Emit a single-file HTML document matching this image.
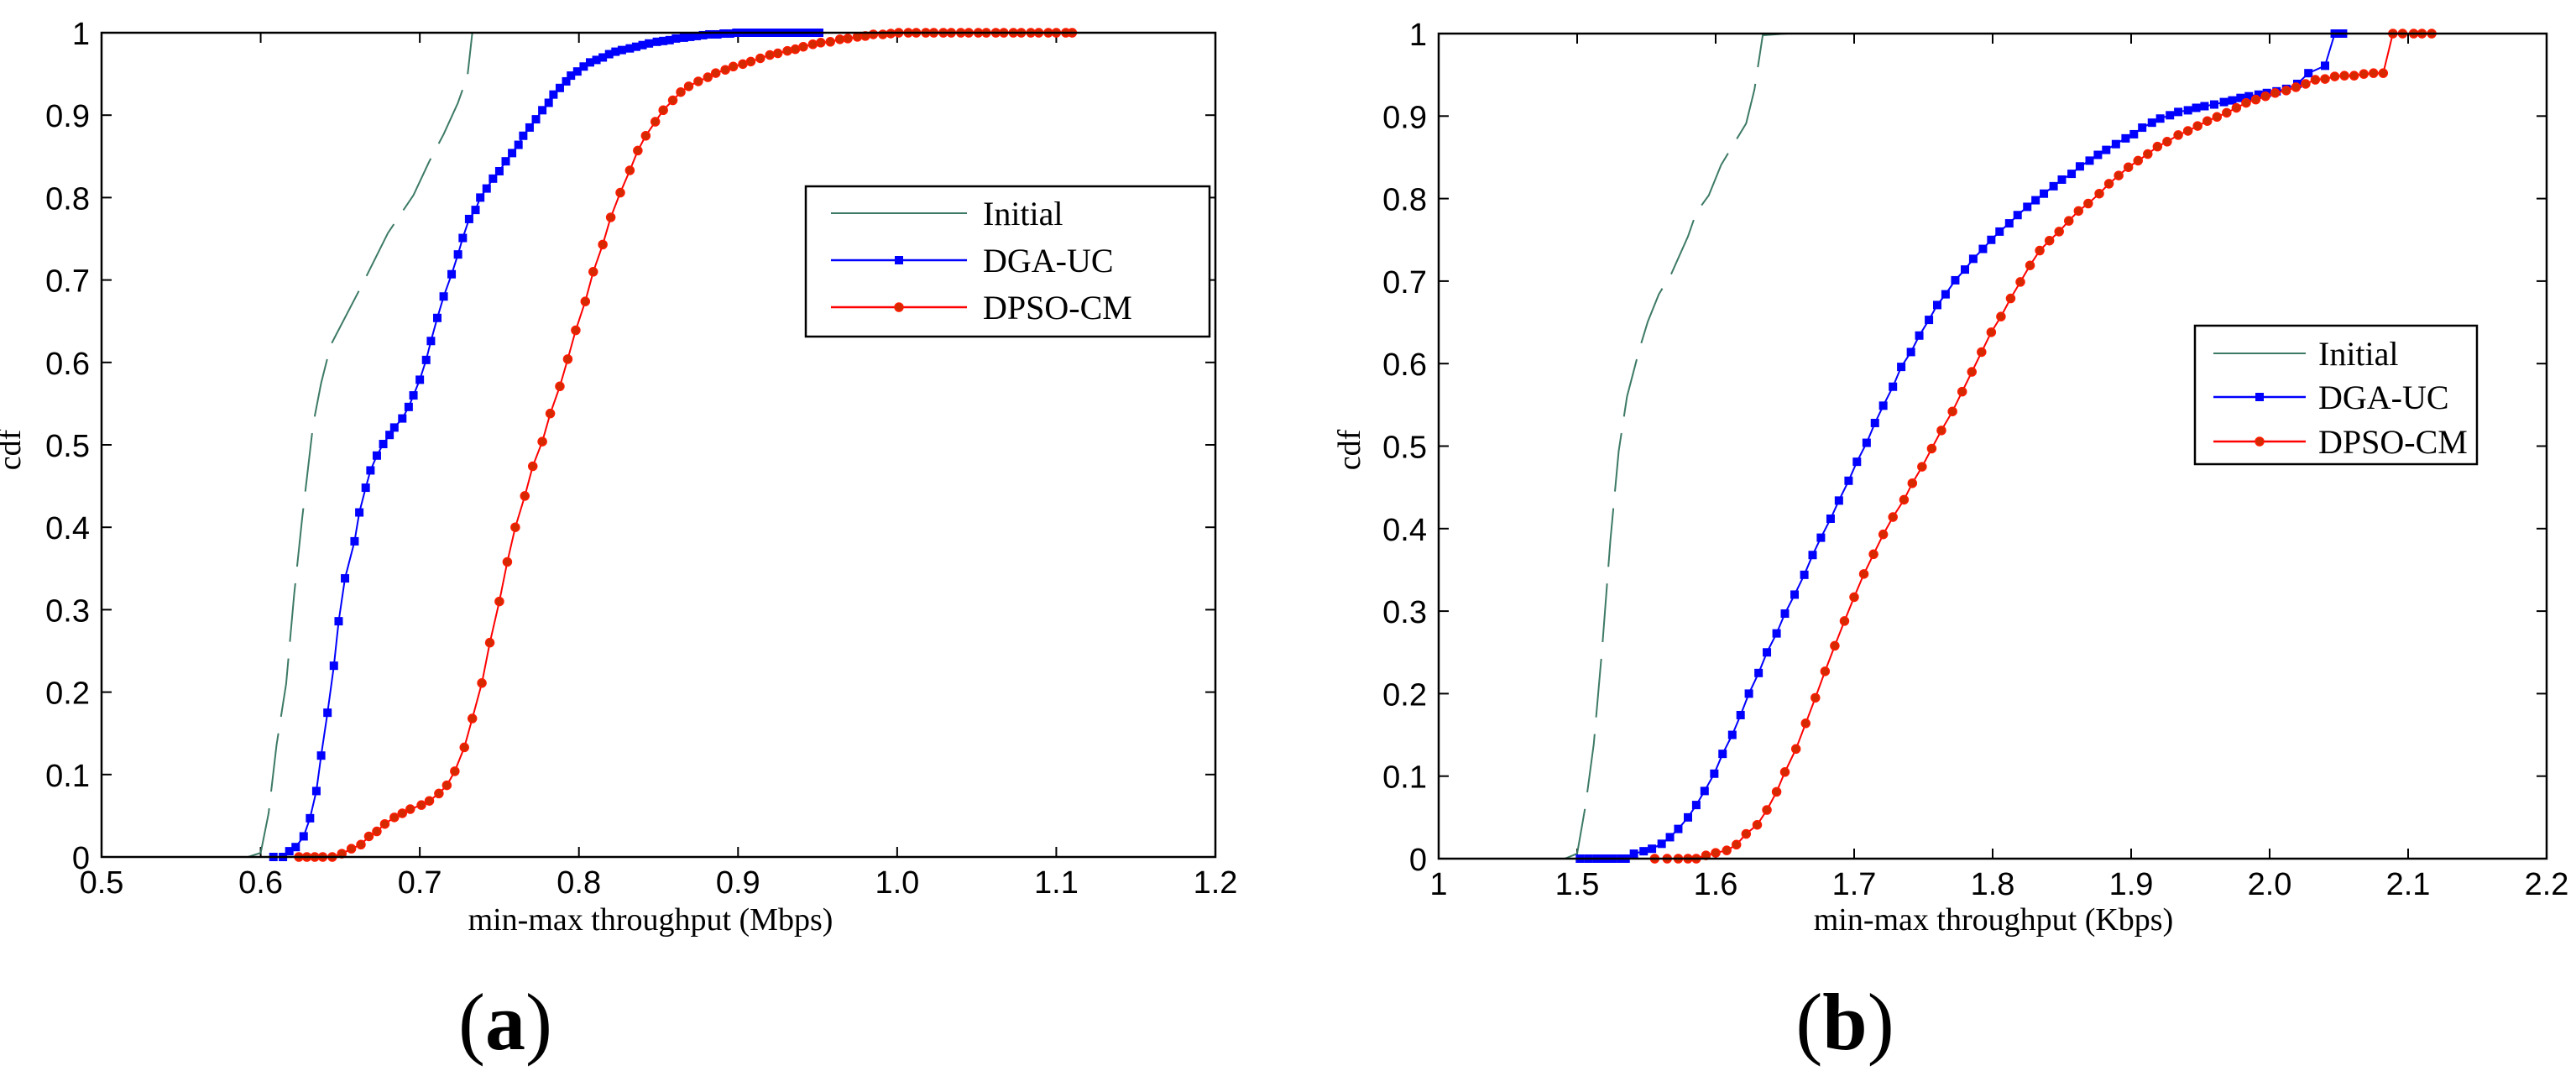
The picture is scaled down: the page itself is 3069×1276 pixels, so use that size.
<!DOCTYPE html>
<html><head><meta charset="utf-8"><style>
html,body{margin:0;padding:0;background:#fff;}
svg{display:block;}
.tk{font-family:"Liberation Sans",Arial,sans-serif;font-size:38px;fill:#000;}
.lb{font-family:"Liberation Serif","Times New Roman",serif;font-size:38px;fill:#000;}
.lg{font-family:"Liberation Serif","Times New Roman",serif;font-size:40px;fill:#000;}
.cap{font-family:"Liberation Serif","Times New Roman",serif;font-size:96px;fill:#000;}
</style></head><body>
<svg id="root" xmlns="http://www.w3.org/2000/svg" width="3069" height="1276" viewBox="0 0 3069 1276">
<rect width="3069" height="1276" fill="#fff"/>
<g id="pa"></g>
<g id="pb"></g>
<text class="cap" x="602" y="1250" text-anchor="middle"><tspan font-weight="normal">(</tspan><tspan font-weight="bold">a</tspan><tspan font-weight="normal">)</tspan></text>
<text class="cap" x="2198" y="1250" text-anchor="middle"><tspan font-weight="normal">(</tspan><tspan font-weight="bold">b</tspan><tspan font-weight="normal">)</tspan></text>
</svg>
<script>
// ---- Panel (a) data ----
const aInitX=[0.592,0.600,0.605,0.610,0.616,0.621,0.626,0.633,0.638,0.644,0.654,0.665,0.680,0.696,0.706,0.715,0.724,0.730,0.733];
const aInitY=[0,0.005,0.053,0.136,0.21,0.318,0.41,0.525,0.575,0.621,0.658,0.699,0.757,0.803,0.844,0.877,0.915,0.948,1.0];
const aDgaX=[0.608,0.614,0.618,0.622,0.627,0.631,0.635,0.638,0.642,0.646,0.649,0.653,0.659,0.662,0.666,0.669,0.673,0.677,0.681,0.684,0.689,0.693,0.696,0.700,0.704,0.707,0.711,0.715,0.720,0.724,0.727,0.731,0.735,0.738,0.742,0.746,0.750,0.754,0.758,0.762,0.765,0.769,0.773,0.777,0.781,0.784,0.788,0.792,0.795,0.799,0.803,0.807,0.811,0.815,0.819,0.823,0.827,0.832,0.836,0.840,0.844,0.849,0.853,0.857,0.861,0.866,0.870,0.874,0.878,0.882,0.887,0.891,0.895,0.899,0.903,0.907,0.911,0.915,0.919,0.923,0.927,0.931,0.935,0.939,0.943,0.947,0.951];
const aDgaY=[0,0,0.007,0.012,0.025,0.047,0.080,0.123,0.175,0.232,0.286,0.338,0.383,0.418,0.448,0.469,0.487,0.501,0.512,0.521,0.532,0.546,0.560,0.579,0.603,0.626,0.654,0.680,0.707,0.731,0.751,0.774,0.785,0.800,0.811,0.823,0.832,0.844,0.854,0.864,0.875,0.885,0.895,0.906,0.915,0.925,0.933,0.941,0.948,0.953,0.959,0.964,0.967,0.970,0.974,0.977,0.979,0.981,0.983,0.985,0.987,0.989,0.990,0.991,0.993,0.994,0.995,0.996,0.997,0.998,0.998,0.999,0.999,1,1,1,1,1,1,1,1,1,1,1,1,1,1];
const aDpsoX=[0.624,0.629,0.634,0.639,0.645,0.651,0.657,0.663,0.668,0.673,0.678,0.684,0.689,0.694,0.701,0.706,0.712,0.717,0.722,0.728,0.733,0.739,0.744,0.750,0.755,0.760,0.766,0.771,0.777,0.782,0.788,0.793,0.798,0.804,0.809,0.815,0.820,0.826,0.832,0.837,0.842,0.848,0.853,0.859,0.864,0.869,0.875,0.881,0.886,0.892,0.897,0.903,0.908,0.914,0.920,0.925,0.931,0.936,0.941,0.947,0.952,0.958,0.964,0.969,0.975,0.980,0.985,0.991,0.996,1.001,1.007,1.012,1.018,1.023,1.029,1.034,1.040,1.045,1.051,1.056,1.062,1.067,1.073,1.078,1.084,1.089,1.095,1.100,1.106,1.110];
const aDpsoY=[0,0,0,0,0,0.004,0.010,0.015,0.025,0.031,0.040,0.048,0.053,0.058,0.063,0.068,0.077,0.087,0.104,0.133,0.168,0.211,0.260,0.310,0.358,0.400,0.438,0.474,0.504,0.538,0.571,0.604,0.639,0.674,0.710,0.743,0.776,0.806,0.833,0.857,0.875,0.892,0.906,0.918,0.928,0.935,0.941,0.946,0.951,0.955,0.959,0.962,0.965,0.969,0.973,0.975,0.978,0.980,0.983,0.986,0.988,0.989,0.992,0.993,0.995,0.996,0.998,0.998,0.999,1,1,1,1,1,1,1,1,1,1,1,1,1,1,1,1,1,1,1,1,1];
const aXTicks=[0.5,0.6,0.7,0.8,0.9,1.0,1.1,1.2];
const aXLabels=["0.5","0.6","0.7","0.8","0.9","1.0","1.1","1.2"];
// ---- Panel (b) data ----
const bInitX=[1.491,1.500,1.506,1.512,1.518,1.524,1.530,1.536,1.545,1.551,1.559,1.568,1.580,1.586,1.595,1.604,1.613,1.622,1.628,1.634,1.652];
const bInitY=[0,0.006,0.064,0.139,0.254,0.386,0.494,0.560,0.618,0.651,0.684,0.709,0.754,0.783,0.804,0.841,0.866,0.891,0.932,0.998,1.0];
const bDgaX=[1.502,1.508,1.514,1.520,1.526,1.532,1.535,1.541,1.548,1.554,1.561,1.567,1.573,1.580,1.586,1.592,1.599,1.605,1.612,1.618,1.624,1.631,1.637,1.644,1.650,1.657,1.664,1.670,1.676,1.683,1.689,1.696,1.702,1.709,1.715,1.721,1.728,1.734,1.741,1.747,1.754,1.760,1.766,1.773,1.780,1.786,1.793,1.799,1.805,1.812,1.818,1.825,1.831,1.837,1.844,1.850,1.857,1.863,1.870,1.876,1.882,1.889,1.896,1.902,1.908,1.915,1.921,1.928,1.934,1.941,1.947,1.953,1.960,1.967,1.973,1.979,1.985,1.992,1.998,2.005,2.012,2.020,2.028,2.040,2.047,2.053];
const bDgaY=[0,0,0,0,0,0,0,0.006,0.009,0.012,0.018,0.026,0.036,0.050,0.065,0.082,0.103,0.127,0.150,0.174,0.200,0.225,0.250,0.273,0.297,0.320,0.344,0.368,0.389,0.412,0.434,0.458,0.481,0.504,0.528,0.549,0.572,0.596,0.614,0.634,0.653,0.671,0.684,0.701,0.714,0.727,0.739,0.750,0.760,0.770,0.780,0.790,0.798,0.806,0.815,0.823,0.830,0.839,0.846,0.853,0.859,0.866,0.873,0.878,0.886,0.892,0.897,0.901,0.905,0.907,0.910,0.912,0.914,0.917,0.919,0.922,0.924,0.926,0.928,0.930,0.933,0.939,0.952,0.961,1.0,1.0];
const bDpsoX=[1.556,1.565,1.573,1.580,1.586,1.593,1.600,1.608,1.615,1.622,1.630,1.637,1.644,1.650,1.658,1.665,1.672,1.679,1.686,1.693,1.700,1.707,1.714,1.721,1.728,1.736,1.742,1.749,1.756,1.763,1.771,1.778,1.785,1.792,1.799,1.806,1.813,1.820,1.827,1.834,1.841,1.848,1.855,1.862,1.869,1.877,1.884,1.891,1.898,1.905,1.912,1.919,1.926,1.934,1.941,1.948,1.955,1.962,1.969,1.976,1.983,1.990,1.997,2.004,2.012,2.019,2.026,2.033,2.040,2.047,2.054,2.061,2.068,2.075,2.082,2.089,2.096,2.104,2.110,2.117];
const bDpsoY=[0,0,0,0,0,0.004,0.007,0.010,0.017,0.030,0.041,0.059,0.081,0.105,0.133,0.164,0.195,0.227,0.258,0.288,0.317,0.345,0.369,0.393,0.414,0.435,0.455,0.475,0.497,0.519,0.542,0.566,0.590,0.614,0.638,0.657,0.679,0.699,0.719,0.737,0.749,0.760,0.773,0.785,0.794,0.806,0.818,0.828,0.838,0.846,0.854,0.863,0.869,0.877,0.882,0.888,0.894,0.899,0.904,0.910,0.916,0.920,0.924,0.928,0.931,0.935,0.939,0.944,0.945,0.948,0.949,0.949,0.951,0.952,0.952,1,1,1,1,1];
const bXTicks=[1.4,1.5,1.6,1.7,1.8,1.9,2.0,2.1,2.2];
const bXLabels=["1","1.5","1.6","1.7","1.8","1.9","2.0","2.1","2.2"];
const yTicks=[0,0.1,0.2,0.3,0.4,0.5,0.6,0.7,0.8,0.9,1];
const yLabels=["0","0.1","0.2","0.3","0.4","0.5","0.6","0.7","0.8","0.9","1"];

const NS="http://www.w3.org/2000/svg";
function mk(parent,tag,attrs){const e=document.createElementNS(NS,tag);for(const k in attrs)e.setAttribute(k,attrs[k]);parent.appendChild(e);return e;}

function panel(g,cfg){
  const sx=v=>cfg.x0+(v-cfg.xmin)/(cfg.xmax-cfg.xmin)*(cfg.x1-cfg.x0);
  const sy=v=>cfg.yb-v*(cfg.yb-cfg.yt);
  cfg.xt.forEach((t,i)=>{
    const x=sx(t);
    const a=mk(g,'line',{x1:x,y1:cfg.yb,x2:x,y2:cfg.yb-12,stroke:'#000','stroke-width':2});
    
    
    const b=mk(g,'line',{x1:x,y1:cfg.yt,x2:x,y2:cfg.yt+12,stroke:'#000','stroke-width':2});
    
    
    const tx=mk(g,'text',{x:x,y:cfg.yb+43,'text-anchor':'middle',class:'tk'});
    tx.textContent=cfg.xl[i];
    
    
  });
  yTicks.forEach((t,i)=>{
    const y=sy(t);
    const a=mk(g,'line',{x1:cfg.x0,y1:y,x2:cfg.x0+12,y2:y,stroke:'#000','stroke-width':2});
    
    
    const b=mk(g,'line',{x1:cfg.x1,y1:y,x2:cfg.x1-12,y2:y,stroke:'#000','stroke-width':2});
    
    
    const tx=mk(g,'text',{x:cfg.x0-14,y:y+14,'text-anchor':'end',class:'tk'});
    tx.textContent=yLabels[i];
    
    
  });
  const series=(xs,ys,color,w,dash,name)=>{
    const p=mk(g,'polyline',{points:xs.map((x,i)=>sx(x).toFixed(1)+','+sy(ys[i]).toFixed(1)).join(' '),fill:'none',stroke:color,'stroke-width':w});
    if(dash)p.setAttribute('stroke-dasharray',dash);
    
    
  };
  series(cfg.ix,cfg.iy,'#3d7a66',2,'70 20','initial-line');
  series(cfg.dx,cfg.dy,'#0000ff',2,null,'dga-uc-line');
  cfg.dx.forEach((x,i)=>{
    const r=mk(g,'rect',{x:sx(x)-5,y:sy(cfg.dy[i])-5,width:10,height:10,fill:'#0000ff'});
    
    
  });
  series(cfg.px,cfg.py,'#ff0000',2,null,'dpso-cm-line');
  cfg.px.forEach((x,i)=>{
    const c=mk(g,'circle',{cx:sx(x),cy:sy(cfg.py[i]),r:5,fill:'#d42a00',stroke:'#ff1a00','stroke-width':1.5});
    
    
  });
  const fr=mk(g,'rect',{x:cfg.x0,y:cfg.yt,width:cfg.x1-cfg.x0,height:cfg.yb-cfg.yt,fill:'none',stroke:'#000','stroke-width':2.5});
  
  
  const xl=mk(g,'text',{x:cfg.xlx,y:1108,'text-anchor':'middle',class:'lb'});
  xl.textContent=cfg.xlab;
  
  
  const yl=mk(g,'text',{x:0,y:0,'text-anchor':'middle',class:'lb',transform:`translate(${cfg.ylx},536) rotate(-90)`});
  yl.textContent='cdf';
  
  
  const L=cfg.leg;
  const lg=mk(g,'g',{});
  
  
  mk(lg,'rect',{x:L.x0,y:L.y0,width:L.x1-L.x0,height:L.y1-L.y0,fill:'#fff',stroke:'#000','stroke-width':2.5});
  const ent=[['Initial','#3d7a66',null],['DGA-UC','#0000ff','sq'],['DPSO-CM','#ff0000','ci']];
  ent.forEach((e,i)=>{
    const y=L.rows[i];
    const eg=mk(lg,'g',{});
    
    
    mk(eg,'line',{x1:L.lx0,y1:y,x2:L.lx1,y2:y,stroke:e[1],'stroke-width':e[2]?2.5:2});
    const mx=(L.lx0+L.lx1)/2;
    if(e[2]==='sq')mk(eg,'rect',{x:mx-5,y:y-5,width:10,height:10,fill:'#0000ff'});
    if(e[2]==='ci')mk(eg,'circle',{cx:mx,cy:y,r:5,fill:'#d42a00',stroke:'#ff1a00','stroke-width':1.5});
    const t=mk(eg,'text',{x:L.tx,y:y+14,class:'lg'});
    t.textContent=e[0];
  });
}
panel(document.getElementById('pa'),{x0:121,x1:1448,xmin:0.5,xmax:1.2,yt:39,yb:1021,xt:aXTicks,xl:aXLabels,
  ix:aInitX,iy:aInitY,dx:aDgaX,dy:aDgaY,px:aDpsoX,py:aDpsoY,xlab:'min-max throughput (Mbps)',xlx:775,ylx:24,
  leg:{x0:960,x1:1441,y0:222,y1:401,lx0:990,lx1:1152,tx:1171,rows:[254,310,366]}});
panel(document.getElementById('pb'),{x0:1714,x1:3034,xmin:1.4,xmax:2.2,yt:40,yb:1023,xt:bXTicks,xl:bXLabels,
  ix:bInitX,iy:bInitY,dx:bDgaX,dy:bDgaY,px:bDpsoX,py:bDpsoY,xlab:'min-max throughput (Kbps)',xlx:2375,ylx:1620,
  leg:{x0:2615,x1:2951,y0:388,y1:553,lx0:2637,lx1:2747,tx:2762,rows:[421,473,526]}});
</script>
</body></html>
